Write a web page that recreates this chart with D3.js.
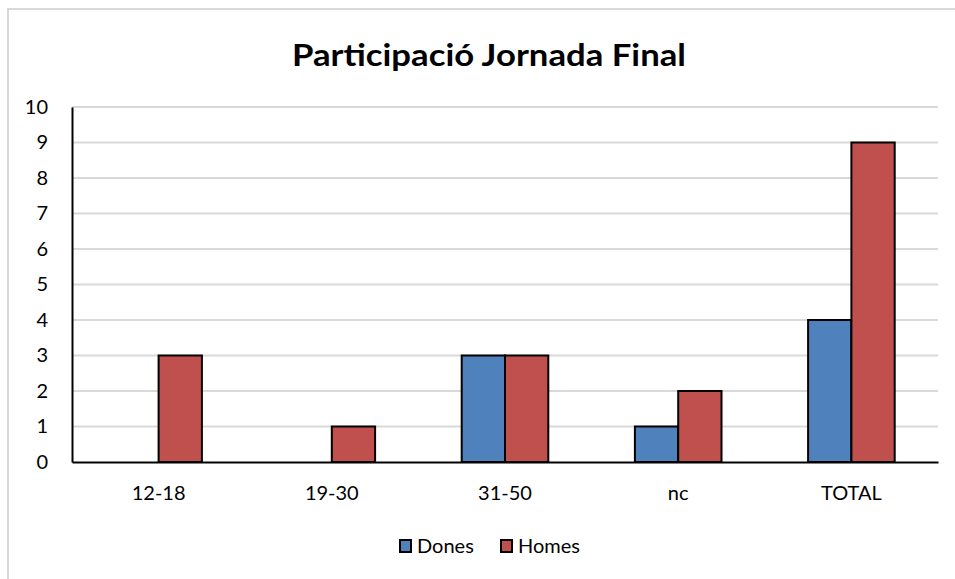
<!DOCTYPE html>
<html>
<head>
<meta charset="utf-8">
<script src="https://cdn.jsdelivr.net/npm/d3@7"></script>
<style>
  body { margin: 0; background: #fff; }
  text { font-family: Lato, "Open Sans", sans-serif; fill: #000; }
</style>
</head>
<body>
<svg id="chart" width="955" height="579"></svg>
<script>
const categories = ["12-18", "19-30", "31-50", "nc", "TOTAL"];
const dones = [0, 0, 3, 1, 4];
const homes = [3, 1, 3, 2, 9];
const seriesNames = ["Dones", "Homes"];
const yTicks = [0, 1, 2, 3, 4, 5, 6, 7, 8, 9, 10];

const colors = { Dones: "#4f81bd", Homes: "#c0504d" };

const svg = d3.select("#chart");
const margin = { top: 107, right: 17, bottom: 117, left: 72 };
const width = +svg.attr("width") - margin.left - margin.right;
const height = +svg.attr("height") - margin.top - margin.bottom;

// outer chart frame
svg.append("rect")
    .attr("x", 8)
    .attr("y", 9)
    .attr("width", 960)
    .attr("height", 620)
    .attr("fill", "none")
    .attr("stroke", "#d9d9d9")
    .attr("stroke-width", 2);

svg.append("text")
    .attr("x", 489)
    .attr("y", 66)
    .attr("text-anchor", "middle")
    .attr("font-size", 31)
    .attr("font-weight", "bold")
    .attr("textLength", 394)
    .attr("lengthAdjust", "spacingAndGlyphs")
    .text("Participació Jornada Final");

const g = svg.append("g").attr("transform", `translate(${margin.left},${margin.top})`);

const x = d3.scaleBand()
    .domain(categories)
    .range([0, width]);

const x1 = d3.scaleBand()
    .domain(seriesNames)
    .range([0, x.bandwidth() / 2]);

const y = d3.scaleLinear()
    .domain([0, 10])
    .range([height, 0]);

// gridlines
g.append("g")
    .selectAll("line")
    .data(yTicks.filter(d => d > 0))
    .enter()
    .append("line")
    .attr("x1", 0)
    .attr("x2", width)
    .attr("y1", d => y(d))
    .attr("y2", d => y(d))
    .attr("stroke", "#d9d9d9")
    .attr("stroke-width", 2);

const rows = categories.map((c, i) => ({ cat: c, values: [
    { key: "Dones", value: dones[i] },
    { key: "Homes", value: homes[i] }
] }));

const groups = g.selectAll(".cat")
    .data(rows)
    .enter()
    .append("g")
    .attr("class", "cat")
    .attr("transform", d => `translate(${x(d.cat) + x.bandwidth() / 4},0)`);

groups.selectAll("rect")
    .data(d => d.values.filter(v => v.value > 0))
    .enter()
    .append("rect")
    .attr("x", d => x1(d.key))
    .attr("y", d => y(d.value))
    .attr("width", x1.bandwidth())
    .attr("height", d => height - y(d.value))
    .attr("fill", d => colors[d.key])
    .attr("stroke", "#000")
    .attr("stroke-width", 2);

// y axis
const yAxis = g.append("g")
    .call(d3.axisLeft(y).tickValues(yTicks).tickSize(0).tickPadding(24));
yAxis.select(".domain").attr("stroke", "#000").attr("stroke-width", 2);
yAxis.selectAll("text")
    .attr("font-size", 20)
    .attr("font-family", "Lato, sans-serif")
    .attr("fill", "#000");

// x axis
const xAxis = g.append("g")
    .attr("transform", `translate(0,${height})`)
    .call(d3.axisBottom(x).tickSize(0).tickPadding(24));
xAxis.select(".domain").attr("stroke", "#000").attr("stroke-width", 2);
xAxis.selectAll("text")
    .attr("font-size", 20)
    .attr("font-family", "Lato, sans-serif")
    .attr("fill", "#000");

// legend
const legend = svg.append("g").attr("transform", "translate(399,546)");
const legendX = [0, 101];
seriesNames.forEach((name, i) => {
    const item = legend.append("g").attr("transform", `translate(${legendX[i]},0)`);
    item.append("rect")
        .attr("x", 1)
        .attr("y", -6)
        .attr("width", 11)
        .attr("height", 12)
        .attr("fill", colors[name])
        .attr("stroke", "#000")
        .attr("stroke-width", 2);
    item.append("text")
        .attr("x", 18)
        .attr("y", 7)
        .attr("font-size", 20)
        .text(name);
});
</script>
</body>
</html>
